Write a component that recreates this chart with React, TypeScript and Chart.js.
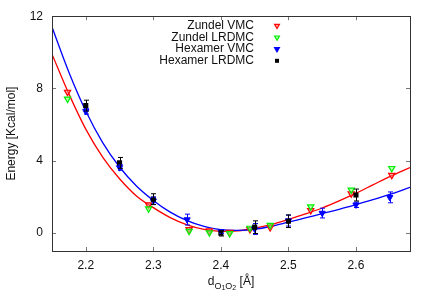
import React, { useEffect, useRef } from "react";
import { Chart, registerables } from "chart.js";

Chart.register(...registerables);

// ---- tick values ----
const xTicks = [2.2, 2.3, 2.4, 2.5, 2.6];
const yTicks = [0, 4, 8, 12];

// ---- Zundel data ----
const zundelX = [2.173, 2.293, 2.353, 2.383, 2.413, 2.443, 2.473, 2.533, 2.593, 2.653];
const zundelVMC = [7.8, 1.56, 0.2, 0.12, 0.05, 0.2, 0.3, 1.25, 2.17, 3.2];
const zundelLRDMC = [7.42, 1.34, 0.1, 0.02, -0.03, 0.27, 0.43, 1.45, 2.38, 3.58];

// ---- Hexamer data ----
const hexVmcX = [2.2, 2.25, 2.3, 2.35, 2.4, 2.45, 2.5, 2.55, 2.6, 2.65];
const hexVMC = [6.73, 3.62, 1.78, 0.74, 0.08, 0.22, 0.68, 1.1, 1.56, 1.97];
const hexVMCErr = [0.15, 0.15, 0.2, 0.3, 0.1, 0.3, 0.3, 0.27, 0.15, 0.3];

const hexLrdmcX = [2.2, 2.25, 2.3, 2.4, 2.45, 2.5, 2.6];
const hexLRDMC = [7.05, 3.88, 1.87, -0.02, 0.32, 0.65, 2.1];
const hexLRDMCErr = [0.3, 0.3, 0.3, 0.15, 0.35, 0.35, 0.33];

// ---- fitted curves (sampled from the figure) ----
const fitX = [2.15, 2.175, 2.2, 2.225, 2.25, 2.275, 2.3, 2.325, 2.35, 2.375, 2.4, 2.425, 2.45, 2.475, 2.5, 2.525, 2.55, 2.575, 2.6, 2.625, 2.65, 2.68];
const zundelFit = [9.9, 7.7, 5.75, 4.2, 3.0, 2.05, 1.4, 0.85, 0.45, 0.2, 0.09, 0.12, 0.26, 0.47, 0.75, 1.05, 1.38, 1.77, 2.2, 2.66, 3.12, 3.62];
const hexamerFit = [11.4, 8.9, 6.75, 5.0, 3.65, 2.6, 1.8, 1.15, 0.68, 0.36, 0.18, 0.14, 0.2, 0.37, 0.6, 0.83, 1.07, 1.31, 1.57, 1.84, 2.13, 2.52];

const RED = "#ff0000";
const GREEN = "#00ee00";
const BLUE = "#0000ff";
const BLACK = "#000000";
const FONT = "'Liberation Sans', Arial, Helvetica, sans-serif";
const TEXT = "#111111";

const pts = (xs: number[], ys: number[]) => xs.map((x, i) => ({ x, y: ys[i] }));

function drawTriDown(ctx: CanvasRenderingContext2D, x: number, y: number, r: number, stroke: string, fill: string) {
  ctx.beginPath();
  for (let k = 0; k < 3; k++) {
    const a = Math.PI + (k * 2 * Math.PI) / 3;
    const px = x + Math.sin(a) * r;
    const py = y - Math.cos(a) * r;
    if (k === 0) ctx.moveTo(px, py);
    else ctx.lineTo(px, py);
  }
  ctx.closePath();
  ctx.fillStyle = fill;
  ctx.fill();
  ctx.strokeStyle = stroke;
  ctx.lineWidth = 1.2;
  ctx.stroke();
}

const framePlugin = {
  id: "frame",
  afterDatasetsDraw(chart: any) {
    const { ctx, chartArea: ca, scales } = chart;
    const xs = scales.x;
    const ys = scales.y;
    ctx.save();
    // error bars
    chart.data.datasets.forEach((ds: any, di: number) => {
      if (!ds.errors) return;
      ctx.strokeStyle = ds.errColor;
      ctx.lineWidth = 1;
      ds.data.forEach((p: any, i: number) => {
        const e = ds.errors[i];
        const px = Math.round(xs.getPixelForValue(p.x)) + 0.5;
        const y1 = ys.getPixelForValue(p.y - e);
        const y2 = ys.getPixelForValue(p.y + e);
        ctx.beginPath();
        ctx.moveTo(px, y1);
        ctx.lineTo(px, y2);
        ctx.moveTo(px - 2.5, y1);
        ctx.lineTo(px + 2.5, y1);
        ctx.moveTo(px - 2.5, y2);
        ctx.lineTo(px + 2.5, y2);
        ctx.stroke();
      });
    });
    // inward ticks
    ctx.strokeStyle = "#777";
    ctx.lineWidth = 1;
    ctx.beginPath();
    xTicks.forEach((v) => {
      const px = Math.round(xs.getPixelForValue(v)) + 0.5;
      ctx.moveTo(px, ca.bottom);
      ctx.lineTo(px, ca.bottom - 4);
      ctx.moveTo(px, ca.top);
      ctx.lineTo(px, ca.top + 4);
    });
    yTicks.forEach((v) => {
      const py = Math.round(ys.getPixelForValue(v)) + 0.5;
      ctx.moveTo(ca.left, py);
      ctx.lineTo(ca.left + 4, py);
      ctx.moveTo(ca.right, py);
      ctx.lineTo(ca.right - 4, py);
    });
    ctx.stroke();
    // frame
    ctx.strokeStyle = "#333";
    ctx.strokeRect(Math.round(ca.left) + 0.5, Math.round(ca.top) + 0.5, Math.round(ca.right - ca.left), Math.round(ca.bottom - ca.top));

    // legend (gnuplot style: right-aligned text, marker on the right)
    const legendItems = [
      { label: "Zundel VMC", kind: "tri", stroke: RED, fill: "rgba(255,120,120,0.6)" },
      { label: "Zundel LRDMC", kind: "tri", stroke: GREEN, fill: "rgba(120,255,120,0.6)" },
      { label: "Hexamer VMC", kind: "tri", stroke: BLUE, fill: BLUE },
      { label: "Hexamer LRDMC", kind: "sq", stroke: BLACK, fill: BLACK },
    ];
    ctx.font = `12px ${FONT}`;
    ctx.fillStyle = TEXT;
    ctx.textAlign = "right";
    ctx.textBaseline = "middle";
    legendItems.forEach((it, i) => {
      const y = ca.top + 9.5 + i * 11.7;
      ctx.fillStyle = TEXT;
      ctx.fillText(it.label, 254, y);
      if (it.kind === "tri") {
        drawTriDown(ctx, 277, y, 2.8, it.stroke, it.fill);
      } else {
        ctx.fillStyle = BLACK;
        ctx.fillRect(275, y - 2, 4, 4);
      }
    });

    // x axis title with subscripts: d_{O_1O_2} [Å]
    const baseY = 285;
    const parts = [
      { t: "d", size: 12, dy: 0 },
      { t: "O", size: 9, dy: 3.5 },
      { t: "1", size: 7, dy: 5 },
      { t: "O", size: 9, dy: 3.5 },
      { t: "2", size: 7, dy: 5 },
      { t: " [Å]", size: 12, dy: 0 },
    ];
    let total = 0;
    parts.forEach((p) => {
      ctx.font = `${p.size}px ${FONT}`;
      total += ctx.measureText(p.t).width;
    });
    let cx = (ca.left + ca.right) / 2 - total / 2;
    ctx.textAlign = "left";
    ctx.textBaseline = "alphabetic";
    ctx.fillStyle = TEXT;
    parts.forEach((p) => {
      ctx.font = `${p.size}px ${FONT}`;
      ctx.fillText(p.t, cx, baseY + p.dy);
      cx += ctx.measureText(p.t).width;
    });
    ctx.restore();
  },
};

export default function App() {
  const ref = useRef<HTMLCanvasElement | null>(null);

  useEffect(() => {
    if (!ref.current) return;
    const chart = new Chart(ref.current, {
      type: "scatter",
      data: {
        datasets: [
          {
            label: "Zundel fit",
            data: pts(fitX, zundelFit),
            showLine: true,
            borderColor: RED,
            borderWidth: 1.3,
            pointRadius: 0,
            tension: 0.35,
            order: 10,
          },
          {
            label: "Hexamer fit",
            data: pts(fitX, hexamerFit),
            showLine: true,
            borderColor: BLUE,
            borderWidth: 1.3,
            pointRadius: 0,
            tension: 0.35,
            order: 9,
          },
          {
            label: "Zundel VMC",
            data: pts(zundelX, zundelVMC),
            pointStyle: "triangle",
            pointRotation: 180,
            pointRadius: 3.6,
            pointBorderWidth: 1.2,
            borderColor: RED,
            backgroundColor: "rgba(255,120,120,0.6)",
            order: 4,
          },
          {
            label: "Zundel LRDMC",
            data: pts(zundelX, zundelLRDMC),
            pointStyle: "triangle",
            pointRotation: 180,
            pointRadius: 3.6,
            pointBorderWidth: 1.2,
            borderColor: GREEN,
            backgroundColor: "rgba(120,255,120,0.6)",
            order: 3,
          },
          {
            label: "Hexamer VMC",
            data: pts(hexVmcX, hexVMC),
            pointStyle: "triangle",
            pointRotation: 180,
            pointRadius: 3.6,
            pointBorderWidth: 1,
            borderColor: BLUE,
            backgroundColor: BLUE,
            errors: hexVMCErr,
            errColor: BLUE,
            order: 2,
          } as any,
          {
            label: "Hexamer LRDMC",
            data: pts(hexLrdmcX, hexLRDMC),
            pointStyle: "rect",
            pointRadius: 3.6,
            pointBorderWidth: 0,
            borderColor: BLACK,
            backgroundColor: BLACK,
            errors: hexLRDMCErr,
            errColor: BLACK,
            order: 1,
          } as any,
        ],
      },
      options: {
        responsive: false,
        animation: false,
        events: [],
        layout: { padding: { top: 12, right: 22, left: 0, bottom: 0 } },
        plugins: {
          legend: { display: false },
          tooltip: { enabled: false },
        },
        scales: {
          x: {
            type: "linear",
            min: 2.15,
            max: 2.68,
            afterBuildTicks: (s: any) => {
              s.ticks = xTicks.map((v) => ({ value: v }));
            },
            afterFit: (s: any) => {
              s.height = 51;
            },
            grid: { display: false, drawTicks: false },
            border: { display: false },
            ticks: {
              padding: 7,
              color: TEXT,
              font: { family: FONT, size: 12 },
              callback: (v: any) => Number(v).toFixed(1),
            },
          },
          y: {
            type: "linear",
            min: -1,
            max: 12,
            afterBuildTicks: (s: any) => {
              s.ticks = yTicks.map((v) => ({ value: v }));
            },
            afterFit: (s: any) => {
              s.width = 52;
            },
            grid: { display: false, drawTicks: false },
            border: { display: false },
            title: {
              display: true,
              text: "Energy [Kcal/mol]",
              color: TEXT,
              font: { family: FONT, size: 12 },
              padding: { top: 4, bottom: 0 },
            },
            ticks: {
              padding: 9,
              color: TEXT,
              font: { family: FONT, size: 12 },
              callback: (v: any) => String(v),
            },
          },
        },
      },
      plugins: [framePlugin],
    });
    return () => chart.destroy();
  }, []);

  return (
    <div style={{ position: "absolute", left: 0, top: 0, width: 432, height: 302, background: "#fff" }}>
      <canvas ref={ref} width={432} height={302} style={{ display: "block", width: 432, height: 302 }} />
    </div>
  );
}
